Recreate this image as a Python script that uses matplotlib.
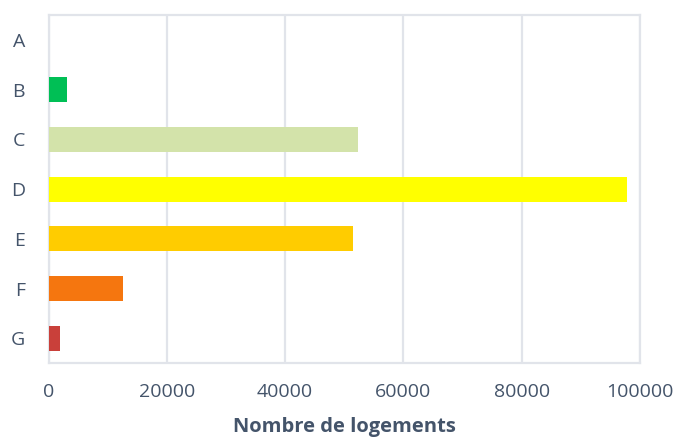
import matplotlib.pyplot as plt

plt.rcParams['font.family'] = ['Open Sans', 'DejaVu Sans']

# Répartition des logements par étiquette énergétique
classes = ['A', 'B', 'C', 'D', 'E', 'F', 'G']
logements = [0, 3100, 52300, 97800, 51500, 12600, 2000]
couleurs = ['#00B050', '#00BF55', '#D3E3AA', '#FFFF00', '#FFCC00', '#F5760F', '#C9403A']

text_color = '#44546A'
grid_color = '#E1E4EA'

fig = plt.figure(figsize=(6.74, 4.37), dpi=100)
ax = fig.add_axes([0.072, 0.169, 0.8776, 0.7967])

ypos = range(len(classes))
ax.barh(ypos, logements, height=0.5, color=couleurs, zorder=3)

ax.set_xlim(0, 100000)
ax.set_ylim(len(classes) - 0.5, -0.5)
ax.set_xticks([0, 20000, 40000, 60000, 80000, 100000])
ax.set_yticks(list(ypos))
ax.set_yticklabels(classes)

ax.grid(axis='x', color=grid_color, linewidth=1.6, zorder=0)
for side in ['top', 'bottom', 'left', 'right']:
    ax.spines[side].set_color(grid_color)
    ax.spines[side].set_linewidth(1.6)

ax.tick_params(axis='both', length=0, labelsize=14, labelcolor=text_color)
ax.tick_params(axis='x', pad=14)
ax.tick_params(axis='y', pad=17)

ax.set_xlabel('Nombre de logements', fontsize=14.5, fontweight='bold',
              color=text_color, labelpad=12)

fig.savefig('out.png', dpi=100)
